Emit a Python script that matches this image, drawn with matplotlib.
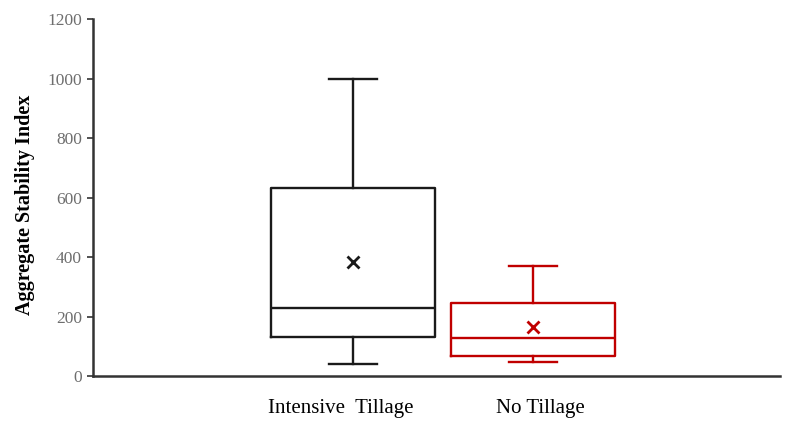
import matplotlib
matplotlib.use("Agg")
import matplotlib.pyplot as plt
import matplotlib.transforms as mtransforms

# five-number summaries
groups = ["Intensive  Tillage", "No Tillage"]
whislo = [40, 47]
q1 = [131, 67]
med = [229, 128]
q3 = [632, 245]
whishi = [1000, 370]
means = [383, 165]
colors = ["#1a1a1a", "#c00000"]

plt.rcParams["font.family"] = ["Liberation Serif", "DejaVu Serif"]

fig = plt.figure(figsize=(7.91, 4.24), dpi=100)
ax = fig.add_axes([0.1176, 0.1132, 0.8686, 0.8418])

positions = [1, 2]
for i in range(len(groups)):
    stats = [dict(whislo=whislo[i], q1=q1[i], med=med[i], q3=q3[i],
                  whishi=whishi[i], mean=means[i], fliers=[])]
    c = colors[i]
    ax.bxp(stats, positions=[positions[i]], widths=0.91, capwidths=0.27,
           showmeans=True, manage_ticks=False,
           boxprops=dict(color=c, linewidth=1.7),
           medianprops=dict(color=c, linewidth=1.7),
           whiskerprops=dict(color=c, linewidth=1.7),
           capprops=dict(color=c, linewidth=1.7),
           meanprops=dict(marker="x", markeredgecolor=c, markersize=8,
                          markeredgewidth=2))

ax.set_xlim(-0.444, 3.372)
ax.set_ylim(0, 1200)
ax.set_yticks(range(0, 1201, 200))
ax.set_xticks([])
ax.tick_params(axis="y", direction="out", length=4, width=1.2, color="#333333",
               labelsize=12.5, labelcolor="#6e6e6e", pad=4)

for s in ["top", "right"]:
    ax.spines[s].set_visible(False)
for s in ["left", "bottom"]:
    ax.spines[s].set_linewidth(1.8)
    ax.spines[s].set_color("#333333")

ax.set_ylabel("Aggregate Stability Index", fontsize=14.5, fontweight="bold")
ax.yaxis.set_label_coords(-0.084, 0.479)

trans = mtransforms.blended_transform_factory(ax.transData, fig.transFigure)
label_x = [0.93, 2.04]
for x, lab in zip(label_x, groups):
    ax.text(x, 0.037, lab, transform=trans, ha="center", va="center", fontsize=15)

fig.savefig("out.png", dpi=100)
